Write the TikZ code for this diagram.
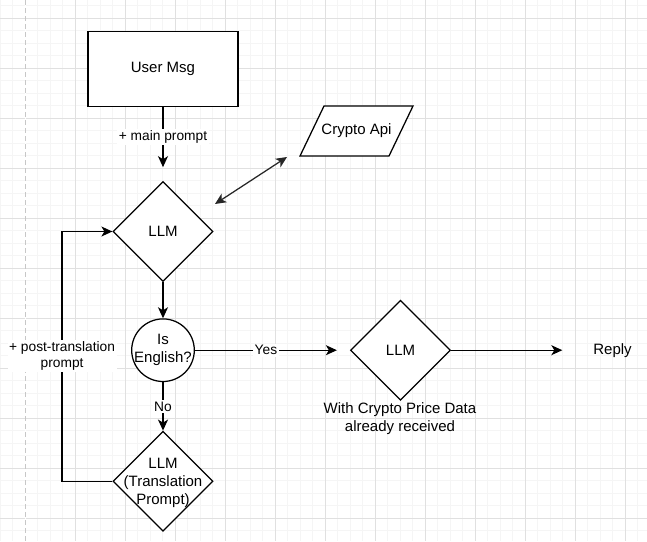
\documentclass[tikz,border=0pt]{standalone}
\usepackage{fontspec}
\setmainfont{Liberation Sans}
\usetikzlibrary{shapes.geometric,arrows.meta,calc}
\begin{document}
\begin{tikzpicture}[x=1pt,y=-1pt,
  minorgrid/.style={draw=black!4,line width=0.8pt},
  majorgrid/.style={draw=black!12,line width=0.8pt},
  pageline/.style={draw=black!22,line width=0.8pt,dash pattern=on 5pt off 3pt},
  shp/.style={draw=black,line width=1.25pt,fill=white},
  boxnode/.style={shp,rectangle,minimum width=150pt,minimum height=75pt,inner sep=0pt,font=\fontsize{15}{18}\selectfont},
  dianode/.style={shp,diamond,aspect=1,minimum width=100pt,minimum height=100pt,inner sep=0pt,font=\fontsize{15}{18}\selectfont},
  circnode/.style={shp,circle,minimum size=62.6pt,inner sep=0pt},
  txt/.style={align=center,inner sep=0pt,font=\fontsize{15}{18}\selectfont},
  lbl/.style={fill=white,inner sep=1.5pt,align=center,font=\fontsize{13.75}{16}\selectfont},
  arr/.style={draw=black,line width=1.25pt,-{Stealth[length=11pt,width=10pt,inset=3pt]}},
  dblarr/.style={draw=black!85,line width=1.25pt,{Stealth[length=11pt,width=10pt,inset=3pt]}-{Stealth[length=11pt,width=10pt,inset=3pt]}}
]
\useasboundingbox (0,0) rectangle (647,541);
\fill[white] (0,0) rectangle (647,541);
% grid
\foreach \x in {0,12.5,...,647} \draw[minorgrid] (\x,0) -- (\x,541);
\foreach \y in {5.8,18.3,...,541} \draw[minorgrid] (0,\y) -- (647,\y);
\foreach \x in {75,125,...,625} \draw[majorgrid] (\x,0) -- (\x,541);
\foreach \y in {18.3,68.3,...,541} \draw[majorgrid] (0,\y) -- (647,\y);
\draw[white,line width=1pt] (25,0) -- (25,541);
\draw[pageline] (25,0) -- (25,541);

% nodes
\node[boxnode] (user) at (163,69.2) {User Msg};
\node[dianode] (llm1) at (163,231.5) {LLM};
\draw[shp] (300,156) -- (389,156) -- (413,106) -- (324,106) -- cycle;
\node[txt] (api) at (356.5,131) {Crypto Api};
\node[circnode] (eng) at (163,350.2) {};
\node[txt] (engtxt) at (eng.center) {Is\\English?};
\node[dianode] (trans) at (163,481.2) {};
\node[txt] (transtxt) at ([yshift=-2pt]trans.center) {LLM\\(Translation\\Prompt)};
\node[dianode] (llm2) at (400.5,350.2) {LLM};
\node[txt,minimum width=100pt] (reply) at (612.5,350.2) {Reply};
\node[txt] (note) at (400,419) {With Crypto Price Data\\already received};
\coordinate (c1) at (215,204);
\coordinate (c2) at (287,157);

% connectors
\draw[arr] (user.south) -- node[lbl]{+ main prompt} ([yshift=13.7pt]llm1.north);
\draw[dblarr] (c1) -- (c2);
\draw[arr] (llm1.south) -- (eng.north);
\draw[arr] (eng.east) -- node[lbl]{Yes} ([xshift=-13pt]llm2.west);
\draw[arr] (eng.south) -- node[lbl]{No} (trans.north);
\draw[arr] (llm2.east) -- (reply.west);
\draw[arr] (trans.west) -- ++(-50.3,0) |- node[lbl,pos=0.25]{+ post-translation\\prompt} (llm1.west);
\end{tikzpicture}
\end{document}
